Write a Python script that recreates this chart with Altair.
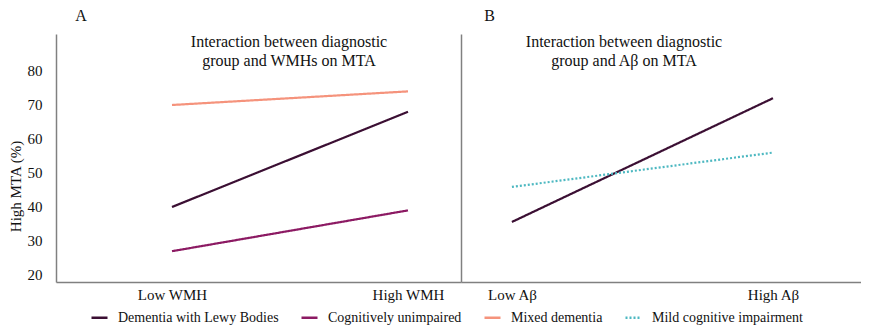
import altair as alt
import pandas as pd

groups = ["Dementia with Lewy Bodies", "Cognitively unimpaired", "Mixed dementia", "Mild cognitive impairment"]
colors = ["#3b0f33", "#8c1a63", "#f5937c", "#4db8c1"]
dashes = [[1, 0], [1, 0], [1, 0], [2, 2]]

wmh_levels = ["Low WMH", "High WMH"]
wmh_groups = ["Dementia with Lewy Bodies", "Cognitively unimpaired", "Mixed dementia"]
wmh_low = [40, 27, 70]
wmh_high = [68, 39, 74]

ab_levels = ["Low Aβ", "High Aβ"]
ab_groups = ["Dementia with Lewy Bodies", "Mild cognitive impairment"]
ab_low = [35.6, 45.9]
ab_high = [72, 56]

y_ticks = [20, 30, 40, 50, 60, 70, 80]
title_a = ["Interaction between diagnostic", "group and WMHs on MTA"]
title_b = ["Interaction between diagnostic", "group and Aβ on MTA"]


def make_df(gs, lows, highs):
    rows = []
    for g, lo, hi in zip(gs, lows, highs):
        rows.append({"group": g, "level": 0, "value": lo})
        rows.append({"group": g, "level": 1, "value": hi})
    return pd.DataFrame(rows)


df_a = make_df(wmh_groups, wmh_low, wmh_high)
df_b = make_df(ab_groups, ab_low, ab_high)

FONT = "'Liberation Serif', 'DejaVu Serif', 'Times New Roman', 'Liberation Sans Narrow', serif"
AXIS_COLOR = "#808080"
Y_DOMAIN = [17.94, 90.88]

legend = alt.Legend(
    title=None, orient="none", direction="horizontal", legendX=34, legendY=274,
    symbolType="stroke", symbolSize=256, symbolStrokeWidth=2.5,
    labelFont=FONT, labelFontSize=14, labelColor="#111111", labelLimit=400,
    labelOffset=9, columnPadding=17,
)

color_enc = alt.Color("group:N", scale=alt.Scale(domain=groups, range=colors), legend=legend)
dash_enc = alt.StrokeDash("group:N", scale=alt.Scale(domain=groups, range=dashes), legend=legend)


def label_expr(levels):
    return f"datum.value == 0 ? '{levels[0]}' : '{levels[1]}'"


def panel(df, levels, xdomain, width, letter, letter_x, sub, sub_x, left):
    yaxis = alt.Axis(
        values=y_ticks, ticks=False, labelPadding=14, labelFont=FONT, labelFontSize=15,
        labelColor="#111111", grid=False, domainColor=AXIS_COLOR, domainWidth=1.5,
        title="High MTA (%)" if left else None, titleFont=FONT, titleFontSize=15,
        titleFontWeight="normal", titleColor="#111111", titleX=-41, titleY=152,
        titleBaseline="middle", labels=left,
    )
    xaxis = alt.Axis(
        values=[0, 1], labelExpr=label_expr(levels), ticks=False, grid=False,
        labelPadding=5, labelFont=FONT, labelFontSize=15, labelColor="#111111",
        domainColor=AXIS_COLOR, domainWidth=1.5, title=None,
    )
    lines = alt.Chart(df).mark_line(strokeWidth=2.2).encode(
        x=alt.X("level:Q", scale=alt.Scale(domain=xdomain, nice=False, zero=False), axis=xaxis),
        y=alt.Y("value:Q", scale=alt.Scale(domain=Y_DOMAIN, nice=False, zero=False), axis=yaxis),
        color=color_enc,
        strokeDash=dash_enc,
        detail="group:N",
    )
    one = pd.DataFrame({"k": [0]})
    let = alt.Chart(one).mark_text(
        text=letter, font=FONT, fontSize=16, color="#111111", baseline="middle", align="center"
    ).encode(x=alt.value(letter_x), y=alt.value(-18))
    subt = alt.Chart(one).mark_text(
        text=sub, font=FONT, fontSize=16, color="#111111", baseline="top", align="center",
        lineHeight=19,
    ).encode(x=alt.value(sub_x), y=alt.value(0))
    return alt.layer(lines, let, subt).properties(width=width, height=248)


left = panel(df_a, wmh_levels, [-0.4915, 1.2246], 405, "A", 25, title_a, 233, True)
right = panel(df_b, ab_levels, [-0.195, 1.337], 400, "B", 28.5, title_b, 163, False)

chart = alt.hconcat(left, right, spacing=0).properties(padding=0).configure_view(stroke=None)

chart.save("out.html", embed_options={"renderer": "svg", "actions": False})
